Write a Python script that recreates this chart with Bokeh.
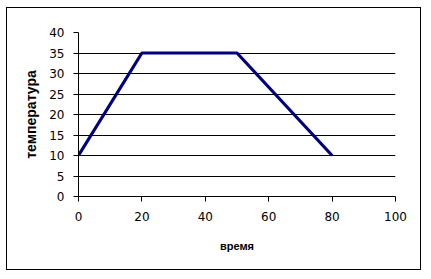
from bokeh.plotting import figure
from bokeh.embed import file_html
from bokeh.resources import INLINE
from bokeh.models import FixedTicker, Range1d

time = [0, 20, 50, 80]
temperature = [10, 35, 35, 10]
x_ticks = [0, 20, 40, 60, 80, 100]
y_ticks = [0, 5, 10, 15, 20, 25, 30, 35, 40]

p = figure(width=415, height=263, output_backend="svg", toolbar_location=None,
           x_range=Range1d(0, 100), y_range=Range1d(0, 40),
           min_border_left=71, min_border_right=27, min_border_top=24, min_border_bottom=75)
p.margin = (7, 0, 0, 6)
p.styles = {"border": "1px solid black"}
p.background_fill_color = "white"
p.border_fill_color = "white"
p.outline_line_color = None

p.line(time, temperature, line_color="#000080", line_width=3.2)

p.xgrid.visible = False
p.ygrid.ticker = FixedTicker(ticks=y_ticks)
p.ygrid.grid_line_color = "black"
p.ygrid.grid_line_width = 1

for ax in (p.xaxis[0], p.yaxis[0]):
    ax.axis_line_color = "black"
    ax.major_tick_line_color = "black"
    ax.minor_tick_line_color = None
    ax.major_tick_in = 0
    ax.major_tick_out = 5
    ax.major_label_text_font = "DejaVu Sans"
    ax.major_label_text_font_size = "12px"
    ax.major_label_text_color = "black"
    ax.axis_label_text_font = "Liberation Sans"
    ax.axis_label_text_font_style = "bold"
    ax.axis_label_text_color = "black"

p.xaxis[0].ticker = FixedTicker(ticks=x_ticks)
p.yaxis[0].ticker = FixedTicker(ticks=y_ticks)
p.xaxis[0].axis_label = "время"
p.yaxis[0].axis_label = "температура"
p.xaxis[0].axis_label_text_font_size = "11px"
p.yaxis[0].axis_label_text_font_size = "14px"
p.xaxis[0].major_label_standoff = 10
p.yaxis[0].major_label_standoff = 9
p.xaxis[0].axis_label_standoff = 16
p.yaxis[0].axis_label_standoff = 7

open("out.html", "w").write(file_html(p, INLINE))
